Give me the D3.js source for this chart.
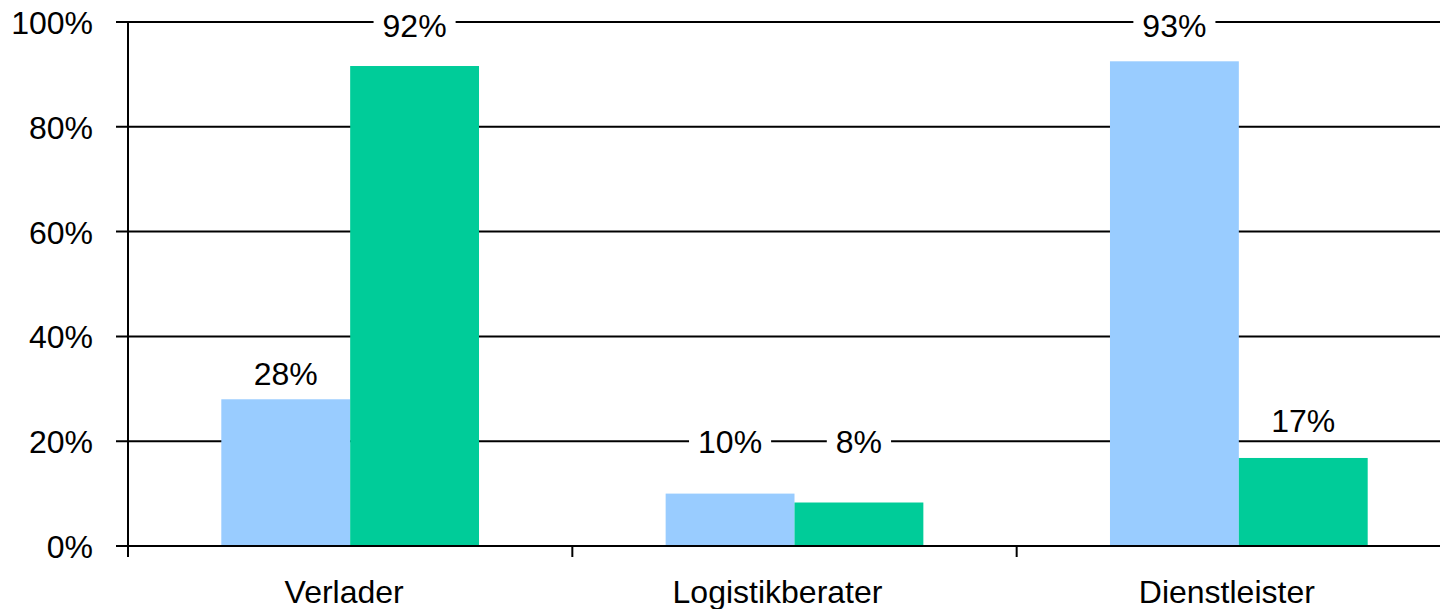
<!DOCTYPE html>
<html><head><meta charset="utf-8">
<script src="https://cdn.jsdelivr.net/npm/d3@7"></script>
<style>body{margin:0;background:#fff}svg{display:block}text{font-family:Arial,"Liberation Sans",sans-serif;fill:#000}</style>
</head><body>
<svg id="c" width="1440" height="609"></svg>
<script>
const categories = ["Verlader", "Logistikberater", "Dienstleister"];
const series = ["A", "B"];
const valuesA = [28, 10, 92.5];
const valuesB = [91.6, 8.3, 16.8];
const labelsA = ["28%", "10%", "93%"];
const labelsB = ["92%", "8%", "17%"];
const labelAtA = [33, 20, 99.4];   // label centre in value units
const labelAtB = [99.4, 20, 24];
const yTicks = [0, 20, 40, 60, 80, 100];
const colors = ["#99CCFF", "#00CC99"];
const catLabelShift = [-6, -17, -12];  // layout: category label nudges (px)

const FS = 32;
const svg = d3.select("#c");
const x0 = d3.scaleBand().domain(categories).range([128, 1461]).padding(0);
const bw = x0.bandwidth();
const x1 = d3.scaleBand().domain(series).range([bw * 0.21, bw * 0.79]).padding(0);
const y = d3.scaleLinear().domain([0, 100]).range([546, 22]);

// gridlines
svg.append("g").selectAll("line").data(yTicks).join("line")
  .attr("x1", 116).attr("x2", 1440)
  .attr("y1", d => y(d)).attr("y2", d => y(d))
  .attr("stroke", "#000").attr("stroke-width", 2);

// y tick labels
svg.append("g").selectAll("text").data(yTicks).join("text")
  .attr("x", 93).attr("y", d => y(d) + 12)
  .attr("text-anchor", "end").attr("font-size", FS)
  .text(d => d + "%");

// y axis line
svg.append("line").attr("x1", 128).attr("x2", 128).attr("y1", y(100)).attr("y2", 557)
  .attr("stroke", "#000").attr("stroke-width", 2);

// x category ticks
svg.append("g").selectAll("line").data(categories.slice(1)).join("line")
  .attr("x1", d => x0(d)).attr("x2", d => x0(d)).attr("y1", 546).attr("y2", 557)
  .attr("stroke", "#000").attr("stroke-width", 2);

// bars
const rows = categories.map((c, i) => ({ c, vals: [valuesA[i], valuesB[i]], labs: [labelsA[i], labelsB[i]], at: [labelAtA[i], labelAtB[i]] }));
const g = svg.append("g").selectAll("g").data(rows).join("g")
  .attr("transform", d => `translate(${x0(d.c)},0)`);
g.selectAll("rect").data(d => d.vals.map((v, j) => ({ s: series[j], v, j }))).join("rect")
  .attr("x", d => x1(d.s)).attr("width", x1.bandwidth())
  .attr("y", d => y(d.v)).attr("height", d => y(0) - y(d.v))
  .attr("fill", d => colors[d.j]);

// baseline redrawn over bars
svg.append("line").attr("x1", 116).attr("x2", 1440).attr("y1", y(0)).attr("y2", y(0))
  .attr("stroke", "#000").attr("stroke-width", 2);

// value labels with white background
const lg = g.selectAll("g.lab").data(d => d.labs.map((t, j) => ({ s: series[j], t, at: d.at[j] }))).join("g").attr("class", "lab");
lg.each(function(d) {
  const el = d3.select(this);
  const cx = x1(d.s) + x1.bandwidth() / 2;
  const cy = y(d.at);
  const txt = el.append("text").attr("x", cx).attr("y", cy + 12)
    .attr("text-anchor", "middle").attr("font-size", FS).text(d.t);
  const b = txt.node().getBBox();
  el.insert("rect", "text").attr("x", b.x - 9).attr("y", cy - 16)
    .attr("width", b.width + 18).attr("height", 32).attr("fill", "#fff");
});

// category labels
svg.append("g").selectAll("text").data(categories).join("text")
  .attr("x", (d, i) => x0(d) + bw * 0.5 + catLabelShift[i]).attr("y", 603)
  .attr("text-anchor", "middle").attr("font-size", FS).text(d => d);
</script>
</body></html>
